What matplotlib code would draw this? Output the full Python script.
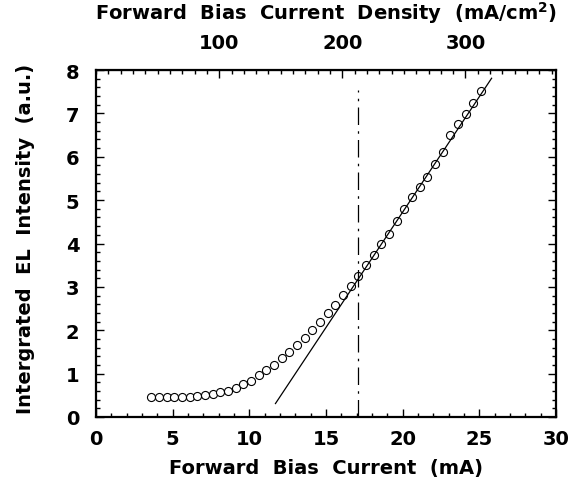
import numpy as np
import matplotlib
matplotlib.use("Agg")
import matplotlib.pyplot as plt
from matplotlib.ticker import MultipleLocator, FixedLocator

plt.rcParams['font.family'] = ['DejaVu Sans']
plt.rcParams['font.weight'] = 'bold'
plt.rcParams['mathtext.default'] = 'bf'

# measured EL intensity vs forward bias current
current_ma = [3.6, 4.1, 4.6, 5.1, 5.6, 6.1, 6.6, 7.1, 7.6, 8.1, 8.6, 9.1, 9.6,
              10.1, 10.6, 11.1, 11.6, 12.1, 12.6, 13.1, 13.6, 14.1, 14.6, 15.1,
              15.6, 16.1, 16.6, 17.1, 17.6, 18.1, 18.6, 19.1, 19.6, 20.1, 20.6,
              21.1, 21.6, 22.1, 22.6, 23.1, 23.6, 24.1, 24.6, 25.1]
intensity = [0.47, 0.47, 0.47, 0.47, 0.47, 0.47, 0.48, 0.50, 0.53, 0.57, 0.61,
             0.67, 0.75, 0.84, 0.96, 1.08, 1.21, 1.36, 1.51, 1.66, 1.83, 2.01,
             2.20, 2.39, 2.59, 2.82, 3.01, 3.26, 3.50, 3.74, 3.99, 4.22, 4.52,
             4.79, 5.08, 5.31, 5.53, 5.83, 6.11, 6.50, 6.75, 6.98, 7.25, 7.52]

# linear fit above threshold
fit_x = [11.7, 25.8]
fit_y = [0.31, 7.81]

threshold_ma = 17.1
threshold_top = 7.55

# current -> current density (mA/cm^2)
density_per_ma = 12.45
density_ticks = [100, 200, 300]

fig = plt.figure(figsize=(5.72, 4.89), dpi=100)
ax = fig.add_axes([0.168, 0.1452, 0.804, 0.7096])

ax.plot(current_ma, intensity, 'o', mfc='white', mec='black', ms=5.8, mew=0.8)
ax.plot(fit_x, fit_y, color='black', lw=0.9)
ax.plot([threshold_ma, threshold_ma], [0, threshold_top], color='black', lw=0.9,
        dashes=(14, 5, 2, 5))

ax.set_xlim(0, 30)
ax.set_ylim(0, 8)
ax.xaxis.set_major_locator(MultipleLocator(5))
ax.xaxis.set_minor_locator(MultipleLocator(1))
ax.yaxis.set_major_locator(MultipleLocator(1))
ax.yaxis.set_minor_locator(MultipleLocator(0.2))
ax.tick_params(which='both', direction='in', right=True, width=1.0)
ax.tick_params(axis='x', which='both', top=False)
ax.tick_params(which='major', length=6, labelsize=14)
ax.tick_params(axis='x', which='major', pad=9)
ax.tick_params(axis='y', which='major', pad=12)
ax.tick_params(which='minor', length=3)
for s in ax.spines.values():
    s.set_linewidth(1.6)

ax.set_xlabel('Forward  Bias  Current  (mA)', fontsize=14, fontweight='bold', labelpad=7)
ax.set_ylabel('Intergrated  EL  Intensity  (a.u.)', fontsize=14, fontweight='bold')
ax.yaxis.set_label_coords(-0.133, 0.516)

top = ax.secondary_xaxis('top', functions=(lambda x: x * density_per_ma,
                                           lambda d: d / density_per_ma))
top.xaxis.set_major_locator(FixedLocator(density_ticks))
top.xaxis.set_minor_locator(MultipleLocator(10))
top.tick_params(which='both', direction='in', width=1.0)
top.tick_params(which='major', length=6, labelsize=14, pad=13)
top.tick_params(which='minor', length=3)
top.set_xlabel('Forward  Bias  Current  Density  (mA/cm$^2$)', fontsize=14,
               fontweight='bold', labelpad=10)

fig.savefig('out.png', dpi=100)
